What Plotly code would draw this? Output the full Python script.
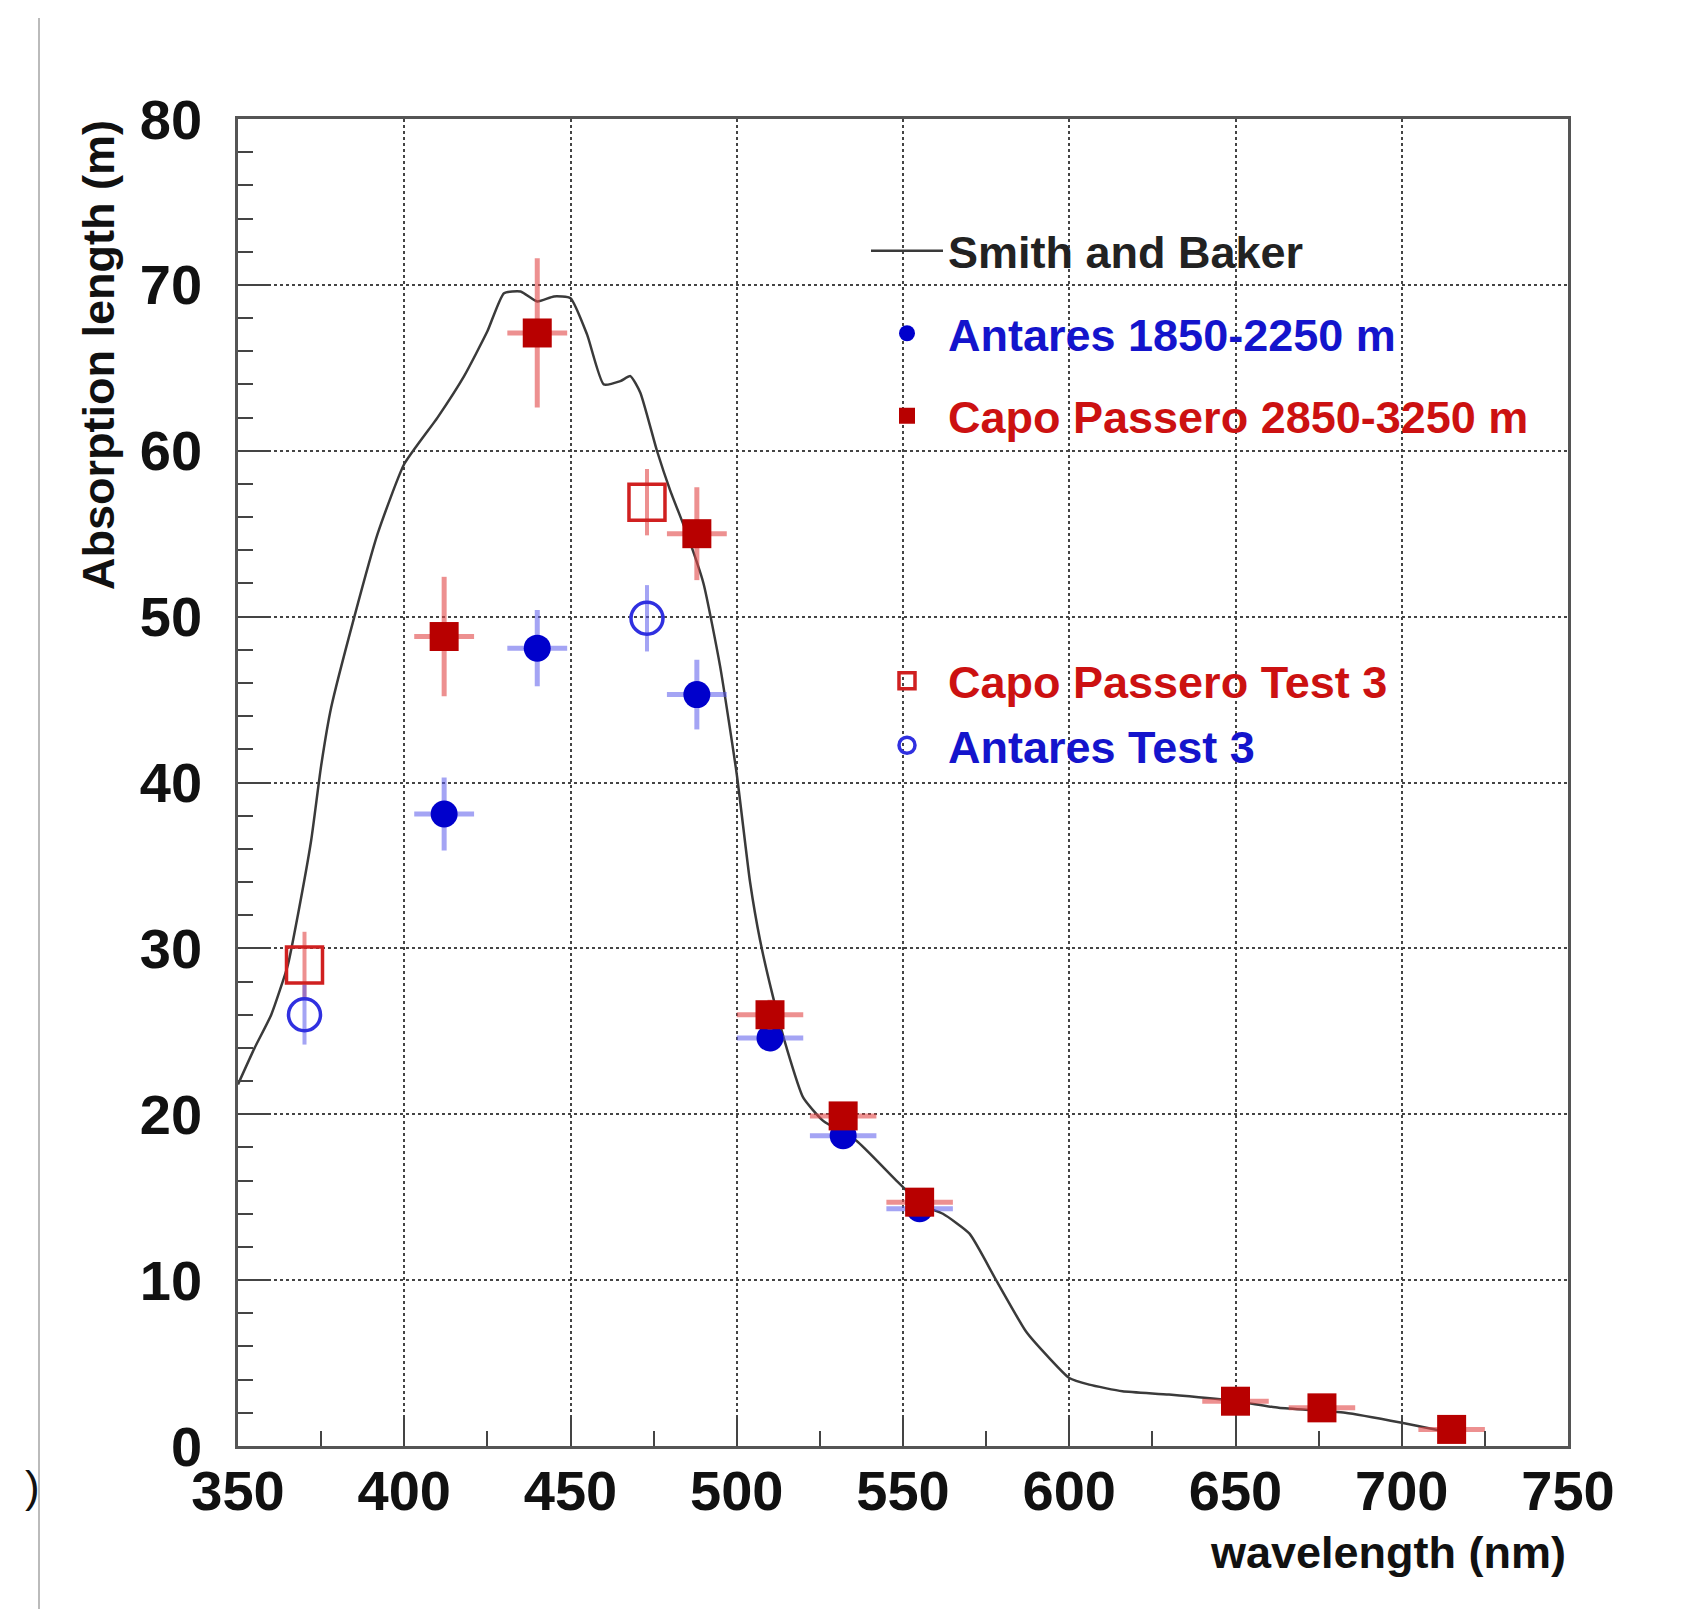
import plotly.graph_objects as go

# ---------------- data ----------------
sb_wl = [350, 355, 360, 365, 368, 372, 375, 378, 385, 392, 400, 410, 418, 425, 430, 435,
         440, 445, 450, 455, 460, 465, 468, 471, 476, 480, 485, 490, 495, 500, 504, 507,
         511, 515, 520, 526, 536, 548, 556, 562, 570, 578, 587, 594, 600, 606, 616, 630,
         650, 663, 683, 700, 710, 715]
sb_abs = [21.8, 24.0, 26.0, 29.0, 32.0, 36.5, 41.0, 44.5, 50.0, 55.0, 59.2, 62.0, 64.5, 67.2, 69.5, 69.6,
          69.0, 69.3, 69.2, 67.0, 64.0, 64.2, 64.5, 63.5, 60.0, 57.6, 55.0, 52.0, 47.0, 40.5, 34.0, 30.5,
          27.0, 24.0, 21.0, 19.6, 18.4, 16.0, 14.5, 14.0, 12.8, 10.0, 6.9, 5.3, 4.1, 3.7, 3.3, 3.1,
          2.7, 2.3, 2.0, 1.4, 1.0, 0.8]

ant_wl = [412, 440, 488, 510, 532, 555]
ant_abs = [38.1, 48.1, 45.3, 24.6, 18.7, 14.3]
ant_err = [2.2, 2.3, 2.1, 0.8, 0.7, 0.5]
ant_xerr = [9, 9, 9, 10, 10, 10]

cp_wl = [412, 440, 488, 510, 532, 555, 650, 676, 715]
cp_abs = [48.8, 67.1, 55.0, 26.0, 19.9, 14.7, 2.7, 2.3, 1.0]
cp_err = [3.6, 4.5, 2.8, 0.9, 0.8, 0.6, 0.3, 0.3, 0.2]
cp_xerr = [9, 9, 9, 10, 10, 10, 10, 10, 10]

cpt3_wl = [370, 473]
cpt3_abs = [29.0, 56.9]
cpt3_err = [2.0, 2.0]

antt3_wl = [370, 473]
antt3_abs = [26.0, 49.9]
antt3_err = [1.8, 2.0]

x_ticks = [350, 400, 450, 500, 550, 600, 650, 700, 750]
y_ticks = [0, 10, 20, 30, 40, 50, 60, 70, 80]

# ---------------- style ----------------
FONT = "Liberation Sans"
RED = "#b80000"
RED_TXT = "#cc1111"
RED_ERR = "rgba(225,70,70,0.6)"
BLUE = "#0000cc"
BLUE_TXT = "#1414cc"
BLUE_ERR = "rgba(90,90,235,0.55)"

L, R, T, B = 230, 1560, 111, 1438
W, H = 1691, 1609


def px(xp):
    return (xp - L) / (R - L)


def py(yp):
    return (B - yp) / (B - T)


def lab(txt, col):
    return f'<span style="color:{col}"><b>{txt}</b></span>'


fig = go.Figure()

fig.add_trace(go.Scatter(
    x=sb_wl, y=sb_abs, mode="lines", name=lab("Smith and Baker", "#222222"),
    line=dict(color="#3a3a3a", width=2.5, shape="spline", smoothing=0.5),
    legendgroup="a", legend="legend"))

fig.add_trace(go.Scatter(
    x=ant_wl, y=ant_abs, mode="markers", name=lab("Antares 1850-2250 m", BLUE_TXT),
    marker=dict(symbol="circle", size=27, color=BLUE),
    error_y=dict(type="data", array=ant_err, color=BLUE_ERR, thickness=5, width=0),
    error_x=dict(type="data", array=ant_xerr, color=BLUE_ERR, thickness=5, width=0),
    legendgroup="b", legend="legend"))

fig.add_trace(go.Scatter(
    x=cp_wl, y=cp_abs, mode="markers", name=lab("Capo Passero 2850-3250 m", RED_TXT),
    marker=dict(symbol="square", size=29, color=RED),
    error_y=dict(type="data", array=cp_err, color=RED_ERR, thickness=5, width=0),
    error_x=dict(type="data", array=cp_xerr, color=RED_ERR, thickness=5, width=0),
    legendgroup="c", legend="legend"))

fig.add_trace(go.Scatter(
    x=cpt3_wl, y=cpt3_abs, mode="markers", name=lab("Capo Passero Test 3", RED_TXT),
    marker=dict(symbol="square-open", size=36, color="#d02020", line=dict(width=3.5)),
    error_y=dict(type="data", array=cpt3_err, color=RED_ERR, thickness=4, width=0),
    legendgroup="d", legend="legend2"))

fig.add_trace(go.Scatter(
    x=antt3_wl, y=antt3_abs, mode="markers", name=lab("Antares Test 3", BLUE_TXT),
    marker=dict(symbol="circle-open", size=32, color="#3030e0", line=dict(width=3.5)),
    error_y=dict(type="data", array=antt3_err, color=BLUE_ERR, thickness=4, width=0),
    legendgroup="e", legend="legend2"))

axis_common = dict(
    showline=True, mirror=True, linecolor="#555555", linewidth=2.5,
    showgrid=True, gridcolor="#444444", griddash="dot", gridwidth=1.5,
    ticks="inside", ticklen=30, tickwidth=2, tickcolor="#444444",
    tickfont=dict(family=FONT, size=56, color="#111111", weight="bold"),
    zeroline=False,
)

fig.update_xaxes(
    range=[350, 750], tickvals=x_ticks, ticktext=[str(v) for v in x_ticks],
    minor=dict(dtick=25, tick0=350, ticks="inside", ticklen=15, tickwidth=2, tickcolor="#444444", showgrid=False),
    ticklabelstandoff=-6, **axis_common)
fig.update_yaxes(
    range=[0, 80], tickvals=y_ticks, ticktext=[str(v) for v in y_ticks],
    minor=dict(dtick=2, tick0=0, ticks="inside", ticklen=15, tickwidth=2, tickcolor="#444444", showgrid=False),
    ticklabelstandoff=22, **axis_common)

legend_font = dict(family=FONT, size=45, color="#111111")
fig.update_layout(
    width=W, height=H,
    margin=dict(l=L, r=W - R, t=T, b=H - B),
    paper_bgcolor="white", plot_bgcolor="white",
    showlegend=True,
    legend=dict(x=px(858), y=py(207), xanchor="left", yanchor="top",
                bgcolor="rgba(0,0,0,0)", font=legend_font, traceorder="grouped",
                tracegroupgap=21, itemwidth=72, itemsizing="trace"),
    legend2=dict(x=px(858), y=py(637), xanchor="left", yanchor="top",
                 bgcolor="rgba(0,0,0,0)", font=legend_font, traceorder="grouped",
                 tracegroupgap=3, itemwidth=72, itemsizing="trace"),
    annotations=[
        dict(text="<b>Absorption length (m)</b>", textangle=-90, xref="paper", yref="paper",
             x=px(91), y=py(347), xanchor="center", yanchor="middle", showarrow=False,
             font=dict(family=FONT, size=45, color="#111111")),
        dict(text="<b>wavelength (nm)</b>", xref="paper", yref="paper",
             x=1.0, y=py(1545), xanchor="right", yanchor="middle", showarrow=False,
             font=dict(family=FONT, size=45, color="#111111")),
        dict(text=")", xref="paper", yref="paper",
             x=px(34), y=py(1478), xanchor="right", yanchor="middle", showarrow=False,
             font=dict(family=FONT, size=44, color="#111111")),
    ],
    shapes=[
        dict(type="line", xref="paper", yref="paper", x0=px(31), x1=px(31), y0=py(10), y1=py(1609),
             line=dict(color="#bbbbbb", width=2)),
    ],
)

fig.write_html("out.html")
